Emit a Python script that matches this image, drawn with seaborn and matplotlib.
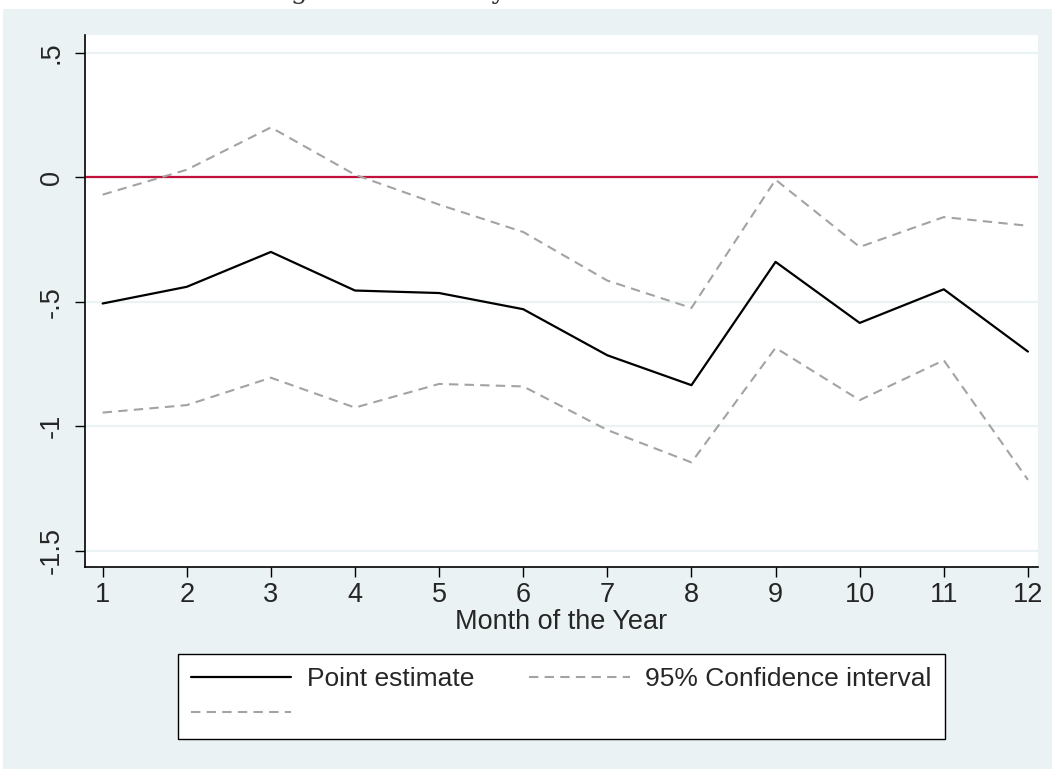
import numpy as np
import pandas as pd
import seaborn as sns
import matplotlib.pyplot as plt
from matplotlib.lines import Line2D
from matplotlib.patches import Rectangle

# Werte
months = [1, 2, 3, 4, 5, 6, 7, 8, 9, 10, 11, 12]
point_estimate = [-0.507, -0.44, -0.30, -0.455, -0.465, -0.53, -0.715, -0.835, -0.34, -0.585, -0.45, -0.70]
ci_upper = [-0.07, 0.03, 0.20, 0.01, -0.11, -0.22, -0.415, -0.525, -0.01, -0.28, -0.16, -0.195]
ci_lower = [-0.945, -0.915, -0.805, -0.925, -0.83, -0.84, -1.015, -1.145, -0.685, -0.895, -0.735, -1.215]
y_ticks = [-1.5, -1.0, -0.5, 0.0, 0.5]
y_tick_labels = ["-1.5", "-1", "-.5", "0", ".5"]

df = pd.DataFrame({
    "month": months,
    "point": point_estimate,
    "upper": ci_upper,
    "lower": ci_lower,
})

sns.set_theme(style="white")
plt.rcParams["font.family"] = ["Liberation Sans", "DejaVu Sans"]

BG = "#EAF2F3"
GRAY = "#A3A3A3"
RED = "#C2103A"
FS = 19.5
DASH = (4.5, 3)

fig = plt.figure(figsize=(10.52, 7.69), dpi=100)
fig.patch.set_facecolor("white")
# Stata-Hintergrund
fig.add_artist(Rectangle((3 / 1052, 0), 1, 1 - 9 / 769, transform=fig.transFigure,
                         facecolor=BG, edgecolor="none", zorder=0))

# abgeschnittene Bildunterschrift oben (nur die Unterlängen sind sichtbar)
fig.text(0.5, 1 + 1 / 769, "Figure 5: Monthly Treatment Variables", ha="center", va="baseline",
         family="DejaVu Serif", fontsize=19, color="#333333")

ax = fig.add_axes([85 / 1052, (769 - 567) / 769, (1038 - 85) / 1052, (567 - 35) / 769])
ax.set_facecolor("white")

for y in y_ticks:
    ax.axhline(y, color=BG, lw=1.6, zorder=1)
ax.axhline(0, color=RED, lw=1.6, zorder=2)

sns.lineplot(data=df, x="month", y="upper", ax=ax, color=GRAY, lw=1.5, zorder=3)
ax.lines[-1].set_dashes(DASH)
sns.lineplot(data=df, x="month", y="lower", ax=ax, color=GRAY, lw=1.5, zorder=3)
ax.lines[-1].set_dashes(DASH)
sns.lineplot(data=df, x="month", y="point", ax=ax, color="black", lw=1.6, zorder=4)

ax.set_xlim(0.79, 12.12)
ax.set_ylim(-1.565, 0.571)
ax.set_xticks(months)
ax.set_xticklabels([str(m) for m in months], fontsize=FS)
ax.set_yticks(y_ticks)
ax.set_yticklabels(y_tick_labels, fontsize=FS, rotation=90, va="center")
ax.tick_params(axis="both", direction="out", length=7.5, width=1, color="black",
               left=True, bottom=True)
ax.tick_params(axis="y", pad=7)
ax.tick_params(axis="x", pad=3)
ax.set_xlabel("Month of the Year", fontsize=FS, labelpad=1)
ax.set_ylabel("")

for side in ["top", "right"]:
    ax.spines[side].set_visible(False)
for side in ["left", "bottom"]:
    ax.spines[side].set_color("black")
    ax.spines[side].set_linewidth(1.2)

handles = [
    Line2D([], [], color="black", lw=1.6),
    Line2D([], [], color=GRAY, lw=1.5, dashes=DASH),
    Line2D([], [], color=GRAY, lw=1.5, dashes=DASH),
]
labels = ["Point estimate", "", "95% Confidence interval"]
leg = fig.legend(handles, labels, ncol=2, loc="upper left", mode="expand",
                 bbox_to_anchor=(178 / 1052, 0, 767 / 1052, (769 - 654) / 769),
                 borderaxespad=0, fontsize=19, handlelength=3.8, handletextpad=0.6,
                 frameon=True, fancybox=False, framealpha=1, borderpad=0.5,
                 labelspacing=0.42)
leg.get_frame().set_edgecolor("black")
leg.get_frame().set_linewidth(1.0)
leg.get_frame().set_facecolor("white")

fig.savefig("out.png", dpi=100, facecolor=fig.get_facecolor())
